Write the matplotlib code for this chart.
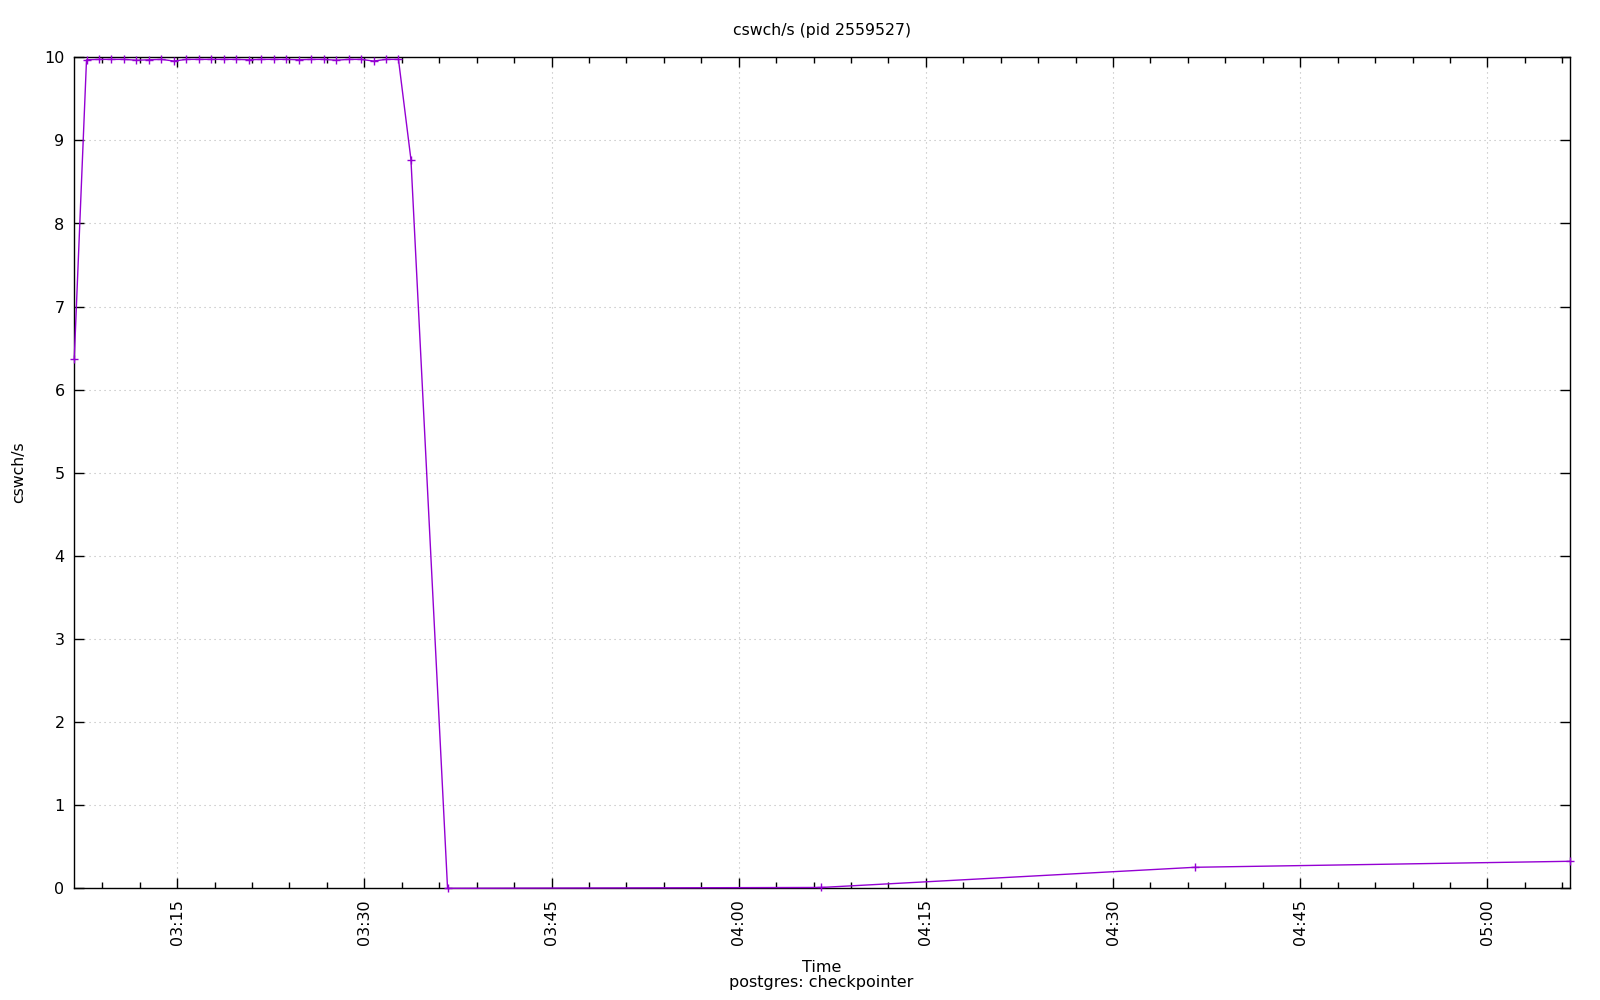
import matplotlib
matplotlib.use("Agg")
import matplotlib.pyplot as plt
import matplotlib.dates as mdates
from matplotlib.ticker import MultipleLocator
import pandas as pd

# sampled times (HH:MM:SS) and context switches per second
times = ["03:06:45",
         "03:07:44", "03:08:44", "03:09:44", "03:10:44", "03:11:44", "03:12:44",
         "03:13:44", "03:14:44", "03:15:44", "03:16:44", "03:17:44", "03:18:44",
         "03:19:44", "03:20:44", "03:21:44", "03:22:44", "03:23:44", "03:24:44",
         "03:25:44", "03:26:44", "03:27:44", "03:28:44", "03:29:44", "03:30:44",
         "03:31:44", "03:32:44",
         "03:33:44", "03:36:40", "04:06:36", "04:36:35", "05:06:36"]
cswch = [6.37,
         9.97, 9.975, 9.975, 9.975, 9.965, 9.97,
         9.975, 9.955, 9.975, 9.975, 9.975, 9.975,
         9.975, 9.97, 9.975, 9.975, 9.975, 9.97,
         9.975, 9.975, 9.965, 9.975, 9.975, 9.955,
         9.975, 9.975,
         8.77, 0.0, 0.01, 0.253, 0.325]

title = "cswch/s (pid 2559527)"
process = "postgres: checkpointer"

t = pd.to_datetime(["2024-01-01 " + s for s in times])

col = '#9400D3'

plt.rcParams['font.family'] = 'DejaVu Sans'
plt.rcParams['font.size'] = 11.5

fig = plt.figure(figsize=(16, 10), dpi=100)
ax = fig.add_axes([0.0464, 0.1117, 0.9347, 0.831])

ax.plot(t, cswch, color=col, linewidth=1.0, marker='+', markersize=5.5,
        markeredgewidth=1.0, clip_on=False, zorder=5)

ax.set_xlim(t.min(), t.max())
ax.set_ylim(0, 10)

ax.yaxis.set_major_locator(MultipleLocator(1))
ax.xaxis.set_major_locator(mdates.MinuteLocator(byminute=range(0, 60, 15)))
ax.xaxis.set_minor_locator(mdates.MinuteLocator(byminute=range(0, 60, 3)))
ax.xaxis.set_major_formatter(mdates.DateFormatter('%H:%M'))

ax.tick_params(which='both', direction='in', top=True, right=True, width=1, colors='black')
ax.tick_params(which='major', length=7)
ax.tick_params(which='minor', length=4)
ax.tick_params(axis='x', which='major', pad=8, labelrotation=90)
ax.tick_params(axis='y', pad=7)
for lab in ax.get_xticklabels():
    lab.set_va('top')

ax.grid(which='major', color='#b8b8b8', linestyle=(0, (1, 3.5)), linewidth=0.8)
for s in ax.spines.values():
    s.set_linewidth(1.0)

fig.text(0.5135, 0.970, title, ha='center', va='center', fontsize=11.3)
fig.text(0.0115, 0.528, 'cswch/s', ha='center', va='center', rotation=90, fontsize=11.3)
fig.text(0.5135, 0.033, 'Time', ha='center', va='center', fontsize=11.5)
fig.text(0.5135, 0.0175, process, ha='center', va='center', fontsize=11.5)

fig.savefig("out.png", dpi=100)
